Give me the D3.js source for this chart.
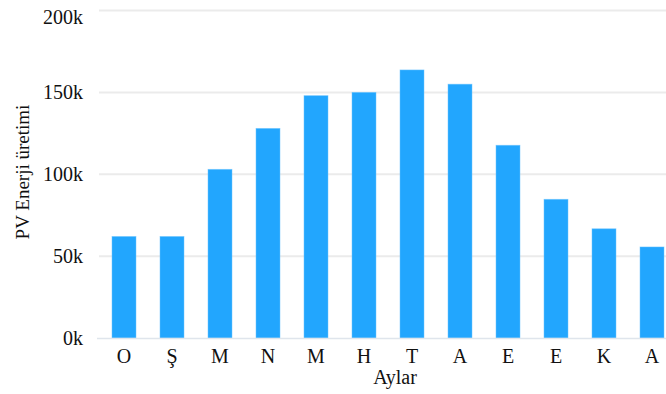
<!DOCTYPE html>
<html>
<head>
<meta charset="utf-8">
<script src="https://cdn.jsdelivr.net/npm/d3@7"></script>
<style>
  html, body { margin: 0; padding: 0; background: #ffffff; }
  svg { display: block; }
  text { font-family: "Liberation Serif", "Times New Roman", serif; fill: #111; }
</style>
</head>
<body>
<svg id="chart" width="666" height="394"></svg>
<script>
// Monthly PV energy production
const months = ["O", "Ş", "M", "N", "M", "H", "T", "A", "E", "E", "K", "A"];
const production = [62000, 62000, 103000, 128000, 148000, 150000, 163700, 155000, 117700, 84700, 66700, 55600];
const yTicks = [0, 50000, 100000, 150000, 200000];

const svg = d3.select("#chart");
const W = 666, H = 394;
const plotLeft = 100, plotRight = 676, plotTop = 10.5, plotBottom = 338;
const fontSize = "20px";

const x = d3.scaleBand()
  .domain(d3.range(months.length))
  .range([plotLeft, plotRight])
  .paddingInner(0.5)
  .paddingOuter(0.25);

const y = d3.scaleLinear()
  .domain([0, 200000])
  .range([plotBottom, plotTop]);

// horizontal gridlines
const grid = svg.append("g").attr("class", "grid");
grid.selectAll("line")
  .data(yTicks.filter(t => t > 0))
  .join("line")
  .attr("x1", plotLeft - 1)
  .attr("x2", W)
  .attr("y1", d => y(d))
  .attr("y2", d => y(d))
  .attr("stroke", "#ebebeb")
  .attr("stroke-width", 2);

// y axis labels
const yAxis = d3.axisLeft(y)
  .tickValues(yTicks)
  .tickFormat(d => (d / 1000) + "k")
  .tickSize(0)
  .tickPadding(0);

const yg = svg.append("g")
  .attr("transform", `translate(83,0)`)
  .call(yAxis);
yg.select(".domain").remove();
yg.selectAll("text")
  .style("font-family", '"Liberation Serif", serif')
  .style("font-size", fontSize)
  .attr("fill", "#111")
  .attr("dy", d => d === 200000 ? "0.64em" : "0.32em");

// bars
svg.append("g")
  .selectAll("rect")
  .data(production)
  .join("rect")
  .attr("x", (d, i) => x(i))
  .attr("width", x.bandwidth())
  .attr("y", d => y(d))
  .attr("height", d => y(0) - y(d))
  .attr("fill", "#22a6fe")
  .attr("stroke", "#6cc4ff")
  .attr("stroke-width", 0.8)
  .attr("stroke-opacity", 0.6);

// baseline
svg.append("line")
  .attr("x1", plotLeft - 3)
  .attr("x2", W)
  .attr("y1", y(0) + 0.5)
  .attr("y2", y(0) + 0.5)
  .attr("stroke", "#dfe5ec")
  .attr("stroke-width", 1.5);

// x axis labels
const xAxis = d3.axisBottom(x)
  .tickFormat(i => months[i])
  .tickSize(0)
  .tickPadding(0);
const xg = svg.append("g")
  .attr("transform", `translate(0,${plotBottom})`)
  .call(xAxis);
xg.select(".domain").remove();
xg.selectAll("text")
  .style("font-family", '"Liberation Serif", serif')
  .style("font-size", fontSize)
  .attr("fill", "#111")
  .attr("dy", 0)
  .attr("y", 25);

// axis titles
svg.append("text")
  .attr("x", 395)
  .attr("y", 384)
  .attr("text-anchor", "middle")
  .style("font-size", fontSize)
  .text("Aylar");

svg.append("text")
  .attr("transform", "translate(29,172) rotate(-90)")
  .attr("text-anchor", "middle")
  .style("font-size", "19px")
  .text("PV Enerji üretimi");
</script>
</body>
</html>
